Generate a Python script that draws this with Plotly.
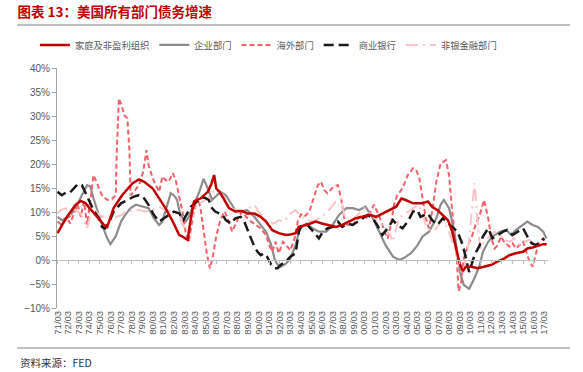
import plotly.graph_objects as go

# ---------------- data (years since 1900, growth %) ----------------
hh_x = [71.0,71.8,72.7,73.2,73.65,74.3,74.9,75.4,75.7,76.3,77.1,78.1,78.7,79.2,80.0,80.6,81.2,81.9,82.5,82.8,83.3,83.6,83.9,84.5,85.2,85.5,85.8,86.0,86.3,86.7,87.2,87.8,88.5,88.9,89.6,90.2,90.7,91.3,91.9,92.6,93.0,93.5,93.8,94.5,95.4,96.0,96.7,97.3,97.9,98.6,99.2,99.8,100.5,101.1,101.7,102.4,103.0,103.5,103.9,104.6,105.2,105.5,106.0,106.4,106.9,107.4,107.9,108.3,108.7,109.0,109.3,109.6,110.1,110.7,111.3,112.0,112.6,113.2,113.7,114.3,115.0,115.4,115.9,116.4,116.9,117.2]
hh_y = [5.6,8.7,11.5,12.3,11.8,10.1,8.7,7.3,6.9,10.8,13.5,16.0,16.8,16.3,14.9,12.8,10.8,8.0,5.2,4.9,4.2,8.7,12.2,12.8,14.2,15.6,17.7,14.9,14.2,12.8,10.8,10.1,10.2,9.7,9.7,9.0,8.0,6.2,5.6,5.2,5.3,5.6,6.9,7.3,8.0,7.6,7.3,6.9,7.3,8.0,8.7,9.0,9.4,9.0,9.7,10.4,11.1,12.8,12.5,11.8,11.8,11.8,12.2,11.1,10.4,9.4,8.3,5.9,2.4,-0.7,-2.3,-1.4,-1.4,-1.7,-1.4,-1.0,-0.3,0.3,1.0,1.4,1.7,2.4,2.6,2.9,3.3,3.3]

corp_x = [71.0,71.4,72.1,72.7,73.3,73.8,74.1,74.4,74.8,75.2,75.7,76.0,76.5,77.0,77.4,77.9,78.4,79.0,79.6,80.1,80.6,80.9,81.4,81.7,82.0,82.3,82.6,83.1,83.4,83.9,84.4,84.8,85.2,85.6,86.1,86.4,86.9,87.4,87.8,88.5,88.9,89.6,90.2,90.7,91.2,91.5,91.8,92.1,92.6,93.0,93.5,93.9,94.5,95.1,95.7,96.4,97.0,97.6,98.3,98.9,99.5,100.1,100.8,101.4,102.0,102.7,103.3,103.8,104.4,105.0,105.5,106.1,106.8,107.2,107.5,108.0,108.5,108.8,109.1,109.4,109.9,110.4,110.9,111.2,111.7,112.1,112.8,113.4,113.9,114.3,115.0,115.4,115.9,116.4,116.9,117.2]
corp_y = [9.0,8.3,9.0,10.8,13.5,15.6,15.3,12.8,10.1,7.3,4.5,3.3,4.9,8.0,9.4,10.8,11.5,11.1,10.8,8.7,7.3,8.0,11.5,13.9,13.5,12.5,9.4,8.0,9.0,11.5,14.2,16.9,14.9,12.5,13.5,14.2,13.5,11.8,10.4,10.1,10.4,9.0,7.3,5.9,3.1,0.3,-1.0,-1.4,-0.7,0.3,3.1,6.6,7.6,6.6,5.9,5.9,7.3,9.4,10.8,10.8,10.4,11.1,8.7,5.9,3.1,0.7,0.0,0.5,1.4,3.0,4.9,5.9,8.7,11.5,12.5,10.8,5.9,1.0,-3.1,-5.2,-6.0,-3.8,-1.0,1.7,3.8,4.9,5.9,6.25,5.2,6.25,7.3,8.0,7.3,6.9,5.9,4.5]

frgn_x = [71.0,71.4,71.9,72.2,72.5,72.9,73.2,73.5,73.8,74.1,74.4,74.8,75.2,75.7,76.2,76.5,76.6,76.8,77.1,77.3,77.6,77.8,77.9,78.2,78.7,79.1,79.4,79.6,80.0,80.3,80.6,80.9,81.2,81.5,81.9,82.2,82.5,82.8,83.1,83.4,83.8,84.2,84.5,84.8,85.1,85.4,85.7,86.0,86.4,86.8,87.2,87.5,87.8,88.2,88.5,88.8,89.3,89.7,90.2,90.7,91.0,91.3,91.6,91.9,92.3,92.6,93.0,93.4,93.7,94.0,94.3,94.8,95.3,95.6,95.9,96.2,96.5,96.8,97.1,97.5,97.8,98.1,98.4,98.9,99.4,99.8,100.3,100.6,100.9,101.2,101.6,101.9,102.2,102.5,102.8,103.1,103.6,104.1,104.6,104.9,105.2,105.5,105.8,106.1,106.4,106.8,107.2,107.7,108.0,108.3,108.7,108.9,109.1,109.4,109.8,110.2,110.5,110.9,111.2,111.3,111.7,112.0,112.3,112.6,112.9,113.2,113.7,114.0,114.3,114.7,115.0,115.3,115.6,115.9,116.2,116.5,116.9,117.2]
frgn_y = [8.0,7.3,8.7,7.6,9.4,11.5,9.0,12.2,7.3,12.8,17.7,15.6,13.5,12.5,12.8,13.5,22.6,33.7,31.9,30.2,29.5,22.6,13.5,14.2,15.6,18.4,22.9,19.8,17.0,15.6,14.2,17.4,16.7,16.3,18.1,16.3,13.5,10.1,5.9,3.8,9.0,13.0,11.0,6.0,1.5,-1.8,1.0,5.0,8.5,10.1,8.0,5.9,7.3,9.4,10.1,9.0,8.0,7.3,6.6,5.2,3.1,1.7,3.8,1.4,3.8,3.1,2.0,4.5,8.0,9.5,9.0,10.1,13.5,15.6,16.3,14.6,13.9,14.6,15.3,15.6,12.8,8.7,7.3,7.3,8.7,9.4,8.7,10.1,11.5,10.1,8.0,5.9,4.5,7.3,11.5,13.5,14.9,17.7,19.1,18.8,17.0,12.8,8.7,6.6,10.1,16.3,20.1,20.8,17.7,10.1,1.7,-6.5,-5.2,0.3,3.1,5.2,7.3,9.4,12.2,12.5,8.7,4.5,2.4,3.1,4.9,3.8,2.8,3.5,2.4,3.1,3.8,1.7,-0.3,-1.4,1.0,3.8,4.5,3.1]

bank_x = [71.0,71.4,71.9,72.2,72.9,73.3,73.6,74.0,74.4,74.9,75.2,75.5,75.9,76.3,77.0,77.6,78.2,78.7,79.2,79.6,80.1,80.6,81.1,81.5,82.0,82.5,82.9,83.6,84.0,84.5,84.9,85.3,85.6,85.9,86.6,86.9,87.4,87.8,88.3,88.6,88.9,89.3,89.6,89.9,90.2,90.5,90.8,91.2,91.5,91.8,92.1,92.6,93.0,93.5,93.8,94.0,94.5,94.9,95.4,95.7,96.0,96.5,97.0,97.5,97.9,98.4,98.9,99.4,99.8,100.3,100.8,101.2,101.7,102.2,102.7,103.1,103.6,104.1,104.6,105.0,105.3,106.0,106.4,106.9,107.4,107.9,108.3,108.8,109.3,109.6,109.9,110.4,110.9,111.2,111.7,112.1,112.6,113.1,113.5,114.0,114.5,115.0,115.4,115.8,116.2,116.7,117.0]
bank_y = [14.2,13.5,14.2,14.1,15.8,15.6,14.2,12.2,10.4,8.7,6.9,6.6,8.0,10.1,11.8,12.5,13.2,13.5,12.8,11.5,9.4,8.0,8.7,9.4,10.1,9.7,8.3,11.1,11.8,12.8,13.0,12.5,10.8,10.1,9.4,8.3,7.6,8.7,9.0,8.3,6.6,4.5,2.8,1.7,1.0,1.4,0.7,-1.0,-1.7,-1.7,-1.0,-0.3,0.7,1.4,5.9,6.9,7.6,6.6,5.2,4.5,5.6,6.6,6.9,8.0,6.9,7.6,7.3,8.0,8.7,9.4,8.7,7.3,5.2,6.6,8.3,7.3,6.6,8.0,10.1,10.4,9.0,9.7,8.3,7.3,8.7,7.6,6.9,5.9,3.1,0.3,-2.5,1.0,3.1,4.9,6.6,4.5,5.2,5.9,6.25,5.2,5.9,6.6,4.9,3.5,3.1,3.8,4.5]

nbfi_x = [71.0,71.3,71.8,72.2,72.7,73.2,73.5,73.8,74.1,74.4,74.8,75.2,75.7,76.2,76.6,77.1,77.6,78.1,78.7,79.3,80.0,80.6,81.2,81.9,82.5,82.8,83.3,83.7,84.2,84.7,85.2,85.6,86.1,86.6,87.0,87.5,88.0,88.5,89.1,89.6,90.0,90.5,91.0,91.5,91.9,92.4,93.0,93.5,94.0,94.5,94.9,95.4,95.9,96.4,96.8,97.3,97.8,98.1,98.6,99.0,99.5,100.0,100.5,100.9,101.4,101.9,102.4,102.7,103.0,103.3,103.8,104.2,104.7,105.1,105.4,105.8,106.3,106.8,107.2,107.7,108.0,108.3,108.7,109.0,109.3,109.6,109.9,110.1,110.4,110.6,110.8,111.0,111.3,111.8,112.3,112.8,113.2,113.7,114.2,114.7,115.1,115.6,116.1,116.5,117.0]
nbfi_y = [9.7,10.4,10.8,9.4,10.4,9.7,8.0,6.6,9.4,10.8,9.7,9.0,9.4,8.7,9.0,9.4,10.4,10.1,10.4,10.1,10.4,11.1,10.4,10.1,9.4,7.3,5.9,8.7,11.5,12.2,12.8,14.2,14.6,13.5,12.2,10.8,10.4,10.1,10.8,11.5,10.1,8.7,8.0,7.6,8.3,8.0,9.7,10.4,9.0,8.7,8.0,8.3,9.0,9.7,10.8,12.2,12.8,9.4,7.6,8.7,9.7,10.8,9.7,9.0,8.0,6.6,5.2,3.8,6.6,8.7,9.7,10.1,10.8,11.5,10.1,7.3,5.9,6.6,8.0,7.3,5.9,3.8,1.0,-1.7,-3.1,0.3,4.0,9.0,16.0,11.0,5.0,2.4,3.8,4.9,5.9,5.2,4.2,3.8,4.5,3.1,3.8,4.2,3.1,3.8,4.5]

series_names = ["家庭及非盈利组织", "企业部门", "海外部门", "商业银行", "非银金融部门"]
tick_years = list(range(71, 118))
tick_text = [f"{y % 100:02d}/03" for y in tick_years]


def yrs(xs):
    return [1900 + v for v in xs]


tick_vals = yrs(tick_years)

FONT = "Noto Sans CJK SC, Liberation Sans, Arial, sans-serif"
TICKFONT = "Liberation Sans, Arial, sans-serif"

fig = go.Figure()

# draw order (last on top) vs legend order via legendrank
specs = [
    (corp_x, corp_y, series_names[1], dict(color="#8C8C8C", width=2.2), 2),
    (frgn_x, frgn_y, series_names[2], dict(color="#F4606A", width=2, dash="5px,3px"), 3),
    (nbfi_x, nbfi_y, series_names[4], dict(color="#FBC4C8", width=2, dash="12px,5px,2px,5px"), 5),
    (bank_x, bank_y, series_names[3], dict(color="#1A1A1A", width=2.5, dash="10px,5px"), 4),
    (hh_x, hh_y, series_names[0], dict(color="#C00000", width=2.5), 1),
]
for xs, ys, name, line, rank in specs:
    fig.add_trace(go.Scatter(x=yrs(xs), y=ys, name=name, mode="lines",
                             line=line, legendrank=rank, hoverinfo="skip"))

# helper trace so the zero-line axis (x2) is drawn
fig.add_trace(go.Scatter(x=tick_vals, y=[None] * len(tick_vals), xaxis="x2",
                         showlegend=False, hoverinfo="skip", mode="lines"))

fig.update_layout(
    width=583, height=372,
    margin=dict(l=57, r=35, t=68, b=64),
    paper_bgcolor="white", plot_bgcolor="white",
    font=dict(family=FONT, color="#595959", size=10),
    showlegend=True,
    legend=dict(orientation="h", x=-0.045, xanchor="left", y=1.096, yanchor="middle",
                font=dict(size=9.3, color="#595959", family=FONT),
                itemwidth=30, tracegroupgap=0, bgcolor="rgba(0,0,0,0)"),
    title=dict(text="<b>图表 13：美国所有部门债务增速</b>", x=0.03, xanchor="left",
               y=0.968, yanchor="middle", xref="container", yref="container",
               font=dict(size=13.5, color="#C00000", family=FONT)),
    xaxis=dict(range=[1970.95, 2017.35], tickmode="array", tickvals=tick_vals,
               ticktext=tick_text, tickangle=-90, showgrid=False, zeroline=False,
               showline=False, ticks="", tickfont=dict(size=9.5, family=TICKFONT, color="#595959")),
    xaxis2=dict(overlaying="x", matches="x", anchor="free", position=0.2, side="bottom",
                tickmode="array", tickvals=tick_vals, showticklabels=False,
                showline=True, linecolor="#BFBFBF", linewidth=1,
                ticks="outside", ticklen=3, tickcolor="#BFBFBF", showgrid=False, zeroline=False),
    yaxis=dict(range=[-10, 40], dtick=5, tick0=0, ticksuffix="%", showgrid=False,
               zeroline=False, showline=True, linecolor="#A6A6A6", linewidth=1,
               ticks="outside", ticklen=4, tickcolor="#A6A6A6",
               tickfont=dict(size=10, family=TICKFONT, color="#595959")),
)

# header / footer rules and source note
fig.add_shape(type="line", xref="paper", yref="paper", x0=-0.081, x1=1.045,
              y0=(308 - 25) / 240, y1=(308 - 25) / 240, line=dict(color="#808080", width=1))
fig.add_shape(type="line", xref="paper", yref="paper", x0=-0.081, x1=1.045,
              y0=(308 - 348) / 240, y1=(308 - 348) / 240, line=dict(color="#808080", width=1))
fig.add_annotation(text="资料来源：FED", xref="paper", yref="paper",
                   x=(18 - 57) / 491, y=(308 - 362) / 240, xanchor="left", yanchor="middle",
                   showarrow=False, font=dict(size=10.5, color="#333333", family=FONT))

fig.write_html("out.html", config={"displayModeBar": False},
               post_script="document.body.style.margin='0';document.body.style.overflow='hidden';")
